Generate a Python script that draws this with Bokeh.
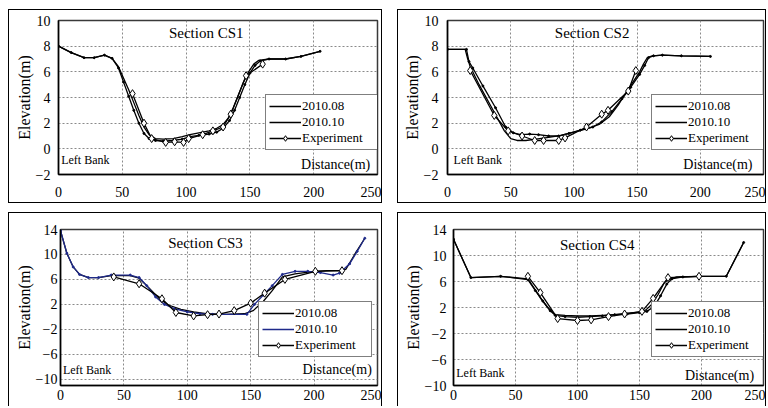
from bokeh.plotting import figure
from bokeh.layouts import row, column
from bokeh.models import Range1d, FixedTicker, Legend, LegendItem, Label
from bokeh.embed import file_html
from bokeh.resources import INLINE

FONT = "'Liberation Serif', 'DejaVu Serif', serif"

# ---------------- data ----------------
x_ticks = [0, 50, 100, 150, 200, 250]
y_ticks_top = [-2, 0, 2, 4, 6, 8, 10]
y_ticks_bot = [-10, -6, -2, 2, 6, 10, 14]
series_names = ["2010.08", "2010.10", "Experiment"]

# CS1
cs1_x08 = [0, 10, 20, 28, 36, 42, 47, 51, 55, 59, 63, 67, 71, 76, 82, 90, 97, 103, 110, 118, 124, 129, 133, 137, 141, 145, 149, 153, 157, 165, 178, 190, 205]
cs1_y08 = [8.0, 7.5, 7.1, 7.1, 7.3, 7.05, 6.4, 5.5, 4.6, 3.6, 2.6, 1.7, 1.1, 0.8, 0.75, 0.8, 0.95, 1.1, 1.25, 1.4, 1.6, 1.9, 2.4, 3.2, 4.2, 5.2, 6.0, 6.6, 6.9, 7.0, 7.0, 7.2, 7.6]
cs1_x10 = [0, 10, 20, 28, 36, 42, 47, 51, 55, 59, 63, 67, 71, 76, 82, 90, 97, 103, 110, 118, 124, 129, 134, 138, 142, 146, 150, 154, 158, 165, 178, 190, 205]
cs1_y10 = [8.0, 7.5, 7.1, 7.1, 7.3, 7.05, 6.3, 5.2, 4.1, 3.0, 2.0, 1.2, 0.8, 0.65, 0.6, 0.65, 0.75, 0.95, 1.05, 1.15, 1.3, 1.6, 2.2, 3.0, 4.0, 5.0, 5.9, 6.5, 6.85, 7.0, 7.0, 7.2, 7.6]
cs1_xe = [58, 67, 73, 84, 91, 98, 102, 113, 121, 129, 135, 147, 160]
cs1_ye = [4.3, 2.0, 0.8, 0.5, 0.55, 0.5, 0.8, 1.1, 1.4, 1.7, 2.7, 5.7, 6.6]

# CS2
cs2_x08 = [0, 14, 16, 18, 25, 35, 45, 50, 55, 62, 70, 80, 90, 100, 110, 120, 128, 135, 142, 148, 152, 155, 158, 162, 170, 185, 208]
cs2_y08 = [7.75, 7.75, 7.0, 6.4, 5.0, 3.2, 1.4, 0.8, 0.65, 0.65, 0.75, 0.9, 1.05, 1.3, 1.55, 1.9, 2.5, 3.4, 4.5, 5.4, 6.0, 6.6, 7.1, 7.25, 7.3, 7.25, 7.2]
cs2_x10 = [0, 15, 17, 20, 28, 38, 46, 52, 58, 65, 72, 80, 88, 96, 105, 115, 122, 130, 138, 145, 152, 156, 159, 163, 170, 185, 208]
cs2_y10 = [7.75, 7.75, 6.8, 6.3, 4.9, 3.2, 1.7, 1.25, 1.1, 1.15, 1.1, 1.0, 1.0, 1.2, 1.45, 1.7, 2.1, 2.9, 3.9, 4.8, 5.8, 6.5, 7.1, 7.25, 7.3, 7.25, 7.2]
cs2_xe = [18, 37, 48, 59, 69, 76, 88, 93, 110, 122, 127, 143, 149]
cs2_ye = [6.1, 2.6, 1.4, 1.0, 0.65, 0.65, 0.65, 0.85, 1.7, 2.7, 3.0, 4.5, 6.1]

# CS3
cs3_x08 = [0, 5, 10, 15, 22, 30, 40, 55, 62, 70, 78, 85, 95, 105, 115, 130, 145, 152, 160, 167, 175, 185, 200, 210, 220, 225, 232, 240]
cs3_y08 = [13.8, 10.2, 8.0, 6.8, 6.3, 6.3, 6.6, 6.6, 6.2, 4.6, 2.9, 1.9, 1.2, 0.8, 0.5, 0.4, 0.5, 1.0, 2.5, 4.2, 6.4, 6.9, 7.3, 7.4, 7.4, 7.6, 10.0, 12.6]
cs3_x10 = [0, 5, 10, 15, 22, 30, 40, 55, 62, 68, 75, 82, 90, 100, 110, 120, 147, 153, 160, 167, 175, 185, 195, 205, 215, 220, 228, 234, 240]
cs3_y10 = [13.8, 10.2, 8.0, 6.8, 6.3, 6.3, 6.7, 6.7, 6.3, 5.0, 3.2, 2.0, 1.3, 0.8, 0.5, 0.4, 0.4, 2.0, 3.5, 5.0, 6.8, 7.3, 7.3, 7.1, 6.7, 7.0, 8.5, 10.5, 12.6]
cs3_xe = [42, 62, 80, 91, 105, 116, 125, 137, 150, 161, 177, 201, 222]
cs3_ye = [6.4, 5.3, 2.9, 0.7, 0.15, 0.35, 0.45, 1.0, 2.2, 3.8, 6.0, 7.3, 7.4]

# CS4
cs4_x08 = [0, 14, 38, 60, 65, 70, 76, 82, 90, 100, 110, 120, 130, 140, 150, 155, 160, 165, 170, 173, 180, 198, 220, 234]
cs4_y08 = [12.5, 6.6, 6.8, 6.4, 5.0, 3.5, 2.0, 0.9, 0.8, 0.7, 0.7, 0.8, 0.9, 1.1, 1.3, 1.6, 2.5, 4.0, 5.8, 6.3, 6.7, 6.8, 6.8, 12.0]
cs4_x10 = [0, 14, 38, 60, 66, 72, 78, 82, 90, 100, 110, 120, 130, 140, 150, 156, 162, 167, 172, 176, 185, 198, 220, 234]
cs4_y10 = [12.5, 6.6, 6.8, 6.3, 4.6, 3.0, 1.5, 0.8, 0.6, 0.5, 0.6, 0.7, 0.9, 1.0, 1.2, 1.4, 2.2, 3.8, 5.6, 6.4, 6.7, 6.8, 6.8, 12.0]
cs4_xe = [60, 70, 84, 100, 111, 125, 138, 152, 161, 173, 198]
cs4_ye = [6.8, 4.3, 0.3, 0.0, 0.1, 0.6, 1.0, 1.4, 3.4, 6.6, 6.8]


def make_panel(title, x08, y08, x10, y10, xe, ye, yr, yticks, w, h, mbl, mbr, mbt, mbb,
               ystand, ylabstand, xstand, leg_loc, title_xy, left_xy, dist_xy, c10, bottom_border=True):
    p = figure(width=w, height=h, x_range=Range1d(0, 250), y_range=Range1d(*yr),
               output_backend="svg", toolbar_location=None,
               min_border_left=mbl, min_border_right=mbr, min_border_top=mbt, min_border_bottom=mbb)
    st = {"border-top": "1px solid #000", "border-left": "1px solid #000",
          "border-right": "1px solid #000", "box-sizing": "border-box"}
    if bottom_border:
        st["border-bottom"] = "1px solid #000"
    p.styles = st
    p.border_fill_alpha = 0
    p.background_fill_color = "white"
    p.outline_line_color = "#3a3a3a"
    p.outline_line_width = 1.5

    p.xaxis.ticker = FixedTicker(ticks=x_ticks)
    p.yaxis.ticker = FixedTicker(ticks=yticks)
    for ax in (p.xaxis, p.yaxis):
        ax.major_tick_in = 0
        ax.major_tick_out = 0
        ax.minor_tick_line_color = None
        ax.axis_line_color = "black"
        ax.axis_line_width = 1.5
        ax.major_label_text_font = FONT
        ax.major_label_text_font_size = "14px"
        ax.major_label_text_color = "black"
    p.xaxis.major_label_standoff = xstand
    p.yaxis.major_label_standoff = ystand
    p.yaxis.axis_label = "Elevation(m)"
    p.yaxis.axis_label_text_font = FONT
    p.yaxis.axis_label_text_font_size = "16px"
    p.yaxis.axis_label_text_font_style = "normal"
    p.yaxis.axis_label_text_color = "black"
    p.yaxis.axis_label_standoff = ylabstand

    for g in (p.xgrid, p.ygrid):
        g.grid_line_color = "#8a8a8a"
        g.grid_line_dash = "2 2"
        g.grid_line_width = 1
    p.xgrid.ticker = FixedTicker(ticks=x_ticks)
    p.ygrid.ticker = FixedTicker(ticks=yticks)

    r08 = p.line(x08, y08, line_color="black", line_width=1.3)
    r10 = p.line(x10, y10, line_color=c10, line_width=1.3)
    p.scatter(x10, y10, marker="circle", size=2, fill_color=c10, line_color=c10)
    re = p.line(xe, ye, line_color="black", line_width=1.3)
    me = p.scatter(xe, ye, marker="diamond", size=8, fill_color="white", line_color="black", line_width=1)

    leg = Legend(items=[LegendItem(label=series_names[0], renderers=[r08]),
                        LegendItem(label=series_names[1], renderers=[r10]),
                        LegendItem(label=series_names[2], renderers=[re, me])],
                 location=leg_loc)
    leg.border_line_color = "black"
    leg.border_line_width = 1
    leg.background_fill_color = "white"
    leg.background_fill_alpha = 1
    leg.padding = 3
    leg.spacing = 0
    leg.margin = 0
    leg.glyph_width = 32
    leg.glyph_height = 14
    leg.label_height = 14
    leg.label_width = 73
    leg.label_standoff = 1
    leg.label_text_font = FONT
    leg.label_text_font_size = "13px"
    leg.label_text_color = "black"
    p.add_layout(leg)

    p.add_layout(Label(x=title_xy[0], y=title_xy[1], text=title, text_align="center",
                       text_baseline="middle", text_font=FONT, text_font_size="15px",
                       text_color="black"))
    p.add_layout(Label(x=left_xy[0], y=left_xy[1], text="Left Bank", text_align="left",
                       text_baseline="middle", text_font=FONT, text_font_size="12px",
                       text_color="black"))
    p.add_layout(Label(x=dist_xy[0], y=dist_xy[1], text="Distance(m)", text_align="right",
                       text_baseline="middle", text_font=FONT, text_font_size="14px",
                       text_color="black"))
    return p


p1 = make_panel("Section CS1", cs1_x08, cs1_y08, cs1_x10, cs1_y10, cs1_xe, cs1_ye,
                (-2, 10), y_ticks_top, 374, 194, 49, 6, 10, 30, 8, 0, 12,
                (207, 24), (115.8, 9.0), (2.1, -0.9), (244.3, -1.2), "black")
p2 = make_panel("Section CS2", cs2_x08, cs2_y08, cs2_x10, cs2_y10, cs2_xe, cs2_ye,
                (-2, 10), y_ticks_top, 369, 194, 49, 4, 10, 30, 9, 0, 12,
                (204, 24), (114.4, 9.0), (4.8, -0.9), (241.3, -1.2), "black")
p3 = make_panel("Section CS3", cs3_x08, cs3_y08, cs3_x10, cs3_y10, cs3_xe, cs3_ye,
                (-11.0, 14), y_ticks_bot, 374, 194, 51, 6, 16, 22, 3, 0, 4,
                (198, 28), (114.3, 11.9), (1.9, -8.5), (245.5, -8.4), "#1f2a8a", False)
p4 = make_panel("Section CS4", cs4_x08, cs4_y08, cs4_x10, cs4_y10, cs4_xe, cs4_ye,
                (-10, 14), y_ticks_bot, 369, 194, 55, 4, 16, 22, 7, 0, 4,
                (198, 28), (115.9, 11.6), (2.2, -8.0), (242.4, -8.4), "black", False)

layout = column(row(p1, p2, spacing=15), row(p3, p4, spacing=15), spacing=9,
                styles={"margin-left": "8px", "margin-top": "9px"})

open("out.html", "w").write(file_html(layout, INLINE))
